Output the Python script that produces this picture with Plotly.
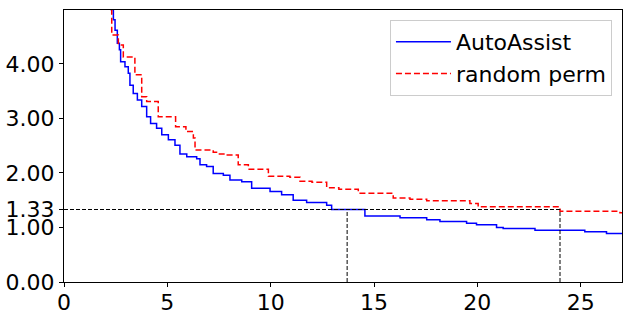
import plotly.graph_objects as go

# AutoAssist curve (step points)
auto_x = [2.15, 2.26, 2.39, 2.47, 2.58, 2.68, 2.74, 2.95, 3.11, 3.19, 3.35, 3.55, 3.76, 4.0, 4.19,
          4.48, 4.73, 5.05, 5.37, 5.61, 5.94, 6.42, 6.58, 6.9, 7.22, 7.71, 8.03, 8.6, 9.08, 9.97,
          10.53, 11.09, 11.74, 12.71, 12.95, 14.56, 16.26, 17.55, 18.19, 19.48, 19.96, 20.93,
          21.25, 22.79, 25.2, 26.25, 27.0]
auto_y = [5.2, 5.0, 4.81, 4.62, 4.38, 4.26, 4.04, 3.95, 3.83, 3.61, 3.46, 3.34, 3.22, 3.03, 2.91,
          2.82, 2.70, 2.61, 2.51, 2.35, 2.30, 2.26, 2.15, 2.12, 1.99, 1.96, 1.87, 1.84, 1.72, 1.66,
          1.60, 1.50, 1.46, 1.41, 1.33, 1.21, 1.18, 1.14, 1.11, 1.08, 1.05, 1.00,
          0.98, 0.95, 0.92, 0.89, 0.88]

# random perm curve (step points)
rand_x = [2.2, 2.31, 2.63, 2.87, 3.43, 3.76, 4.0, 4.56, 5.4, 5.9, 6.26, 6.34, 7.22, 7.38, 7.9,
          8.43, 8.92, 9.89, 10.93, 11.42, 12.0, 12.71, 13.3, 14.24, 15.93, 16.74, 17.55, 19.64,
          20.04, 24.0, 26.9, 27.0]
rand_y = [5.3, 4.53, 4.35, 4.13, 3.80, 3.40, 3.31, 3.03, 2.85, 2.76, 2.64, 2.42, 2.38, 2.35, 2.33,
          2.15, 2.07, 1.94, 1.92, 1.85, 1.83, 1.73, 1.70, 1.63, 1.54, 1.52, 1.49, 1.44,
          1.38, 1.30, 1.27, 1.27]

# reference markers
ref_level = 1.33
ref_x1 = 13.7
ref_x2 = 24.0

x_ticks = [0, 5, 10, 15, 20, 25]
y_ticks = [0.0, 1.0, 1.33, 2.0, 3.0, 4.0]
y_tick_text = ["0.00", "1.00", "1.33", "2.00", "3.00", "4.00"]

fig = go.Figure()
fig.add_trace(go.Scatter(x=auto_x, y=auto_y, mode="lines", line_shape="hv", name="AutoAssist",
                         line=dict(color="blue", width=1.5)))
fig.add_trace(go.Scatter(x=rand_x, y=rand_y, mode="lines", line_shape="hv", name="random perm",
                         line=dict(color="red", width=1.5, dash="6px,3px")))

blk = dict(color="black", width=1, dash="4px,2px")
fig.add_trace(go.Scatter(x=[0, ref_x2], y=[ref_level, ref_level], mode="lines", line=blk,
                         showlegend=False, hoverinfo="skip"))
fig.add_trace(go.Scatter(x=[ref_x1, ref_x1], y=[0, ref_level], mode="lines", line=blk,
                         showlegend=False, hoverinfo="skip"))
fig.add_trace(go.Scatter(x=[ref_x2, ref_x2], y=[0, ref_level], mode="lines", line=blk,
                         showlegend=False, hoverinfo="skip"))

axis_common = dict(showline=True, mirror=True, linecolor="black", linewidth=1,
                   ticks="outside", ticklen=4, tickcolor="black", showgrid=False,
                   zeroline=False, automargin=False, tickfont=dict(size=22, color="black"))
fig.update_xaxes(range=[0, 27], tickvals=x_ticks, ticklabelstandoff=-3, **axis_common)
fig.update_yaxes(range=[0, 4.99], tickvals=y_ticks, ticktext=y_tick_text, **axis_common)

fig.update_layout(
    width=632, height=316,
    margin=dict(l=64, r=10, t=10, b=34),
    paper_bgcolor="white", plot_bgcolor="white",
    font=dict(family="DejaVu Sans", size=22, color="black"),
    legend=dict(x=0.982, y=0.963, xanchor="right", yanchor="top",
                bgcolor="rgba(255,255,255,0.8)", bordercolor="#cccccc", borderwidth=1,
                font=dict(size=22), tracegroupgap=0, itemwidth=55),
)

fig.write_html("out.html", config={"displayModeBar": False},
               post_script="document.body.style.margin='0';")
